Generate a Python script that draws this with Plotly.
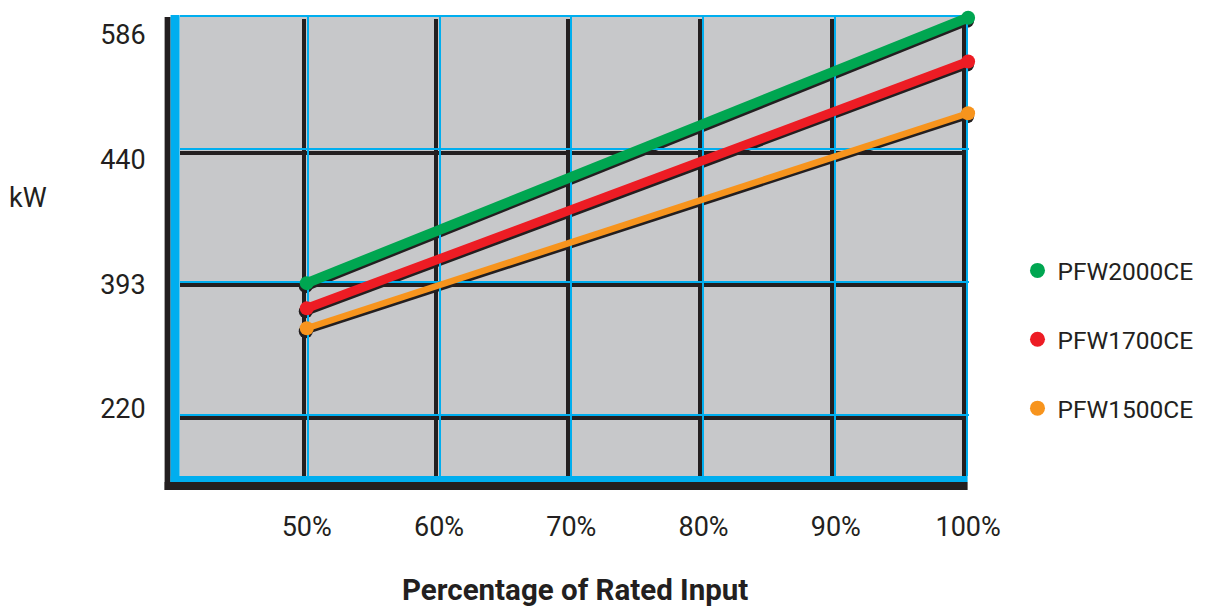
import plotly.graph_objects as go

W, H = 1209, 612
OFF = 8  # page body margin: figure starts 8 px from page edge

# ---- data ----
pct = [50, 100]                                   # % of rated input
x_tick_vals = [50, 60, 70, 80, 90, 100]
x_tick_text = ["50%", "60%", "70%", "80%", "90%", "100%"]
grid_levels = [0, 1, 2, 3]                        # evenly spaced kW rows
y_tick_text = ["220", "393", "440", "586"]
series_names = ["PFW2000CE", "PFW1700CE", "PFW1500CE"]
pfw2000 = [0.99, 2.99]                            # position on the kW row scale
pfw1700 = [0.80, 2.66]
pfw1500 = [0.65, 2.27]
series_values = [pfw2000, pfw1700, pfw1500]
series_colors = ["#00a651", "#ed1c24", "#f7941d"]
line_widths = [10, 9, 6.5]

INK = "#231f20"
BLUE = "#00aeef"
GRAY = "#c7c8ca"
FONT = "Roboto, Liberation Sans, sans-serif"


def px_x(p):
    return (p - OFF) / W


def px_y(p):
    return 1 - (p - OFF) / H


def xdom(d0, d1):
    return [px_x(d0), px_x(d1)]


def ydom(top, bottom):
    return [px_y(bottom), px_y(top)]


def xr(p0, s, d0, d1, v0=50):
    return [v0 + (d0 - p0) / s, v0 + (d1 - p0) / s]


def yr(q0, t, top, bottom, v0=0):
    return [v0 - (bottom - q0) / t, v0 + (q0 - top) / t]


fig = go.Figure()

# shadow lines (subplot 2)
for vals, w in zip(series_values[::-1], line_widths[::-1]):
    fig.add_trace(go.Scatter(x=pct, y=vals, xaxis="x2", yaxis="y2", mode="lines+markers",
                             line=dict(color=INK, width=w), marker=dict(color=INK, size=14),
                             showlegend=False, hoverinfo="skip", cliponaxis=False))
# colored lines (subplot 4)
for name, vals, c, w in zip(series_names[::-1], series_values[::-1], series_colors[::-1], line_widths[::-1]):
    fig.add_trace(go.Scatter(x=pct, y=vals, xaxis="x4", yaxis="y4", mode="lines+markers",
                             line=dict(color=c, width=w), marker=dict(color=c, size=14),
                             name=name, showlegend=False, cliponaxis=False))
# legend entries
for i, (name, c) in enumerate(zip(series_names, series_colors)):
    fig.add_trace(go.Scatter(x=[None], y=[None], xaxis="x4", yaxis="y4", mode="markers",
                             marker=dict(color=c, size=15), name=name, legendgroup=f"g{i}",
                             showlegend=True))
# dummy traces so grid subplots and the label axis are drawn
fig.add_trace(go.Scatter(x=[None], y=[None], xaxis="x", yaxis="y", showlegend=False))
fig.add_trace(go.Scatter(x=[None], y=[None], xaxis="x3", yaxis="y3", showlegend=False))
fig.add_trace(go.Scatter(x=[None], y=[None], xaxis="x4", yaxis="y5", showlegend=False))

S_blk, S_blu, S_col = 13.23, 13.21, 13.26
T = 132.7

hidden = dict(showticklabels=False, zeroline=False, showline=False, ticks="")
TICKFONT = dict(family=FONT, size=27, color=INK)

fig.update_layout(
    width=W, height=H,
    margin=dict(l=0, r=0, t=0, b=0),
    paper_bgcolor="white", plot_bgcolor="rgba(0,0,0,0)",
    showlegend=True,
    # black grid
    xaxis=dict(domain=xdom(180, 968.5), range=xr(305, S_blk, 180, 968.5), anchor="y",
               tickvals=x_tick_vals, showgrid=True, gridcolor=INK, gridwidth=3.5, **hidden),
    yaxis=dict(domain=ydom(19, 476), range=yr(418, T, 19, 476), anchor="x",
               tickvals=grid_levels, showgrid=True, gridcolor=INK, gridwidth=3.5, **hidden),
    # shadows
    xaxis2=dict(domain=xdom(150, 1000), range=xr(306.5, S_col, 150, 1000), anchor="y2",
                showgrid=False, **hidden),
    yaxis2=dict(domain=ydom(8, 500), range=yr(417.5, T, 8, 500), anchor="x2",
                showgrid=False, **hidden),
    # blue grid
    xaxis3=dict(domain=xdom(180, 971), range=xr(308.5, S_blu, 180, 971), anchor="y3",
                tickvals=x_tick_vals, showgrid=True, gridcolor=BLUE, gridwidth=2, **hidden),
    yaxis3=dict(domain=ydom(15, 476), range=yr(414.5, T, 15, 476), anchor="x3",
                tickvals=grid_levels, showgrid=True, gridcolor=BLUE, gridwidth=2, **hidden),
    # colored data + x tick labels
    xaxis4=dict(domain=xdom(150, 1000), range=xr(307.5, S_col, 150, 1000), anchor="free",
                position=px_y(508), tickvals=x_tick_vals, ticktext=x_tick_text,
                showticklabels=True, ticks="", showgrid=False, zeroline=False, showline=False,
                tickfont=TICKFONT),
    yaxis4=dict(domain=ydom(8, 500), range=yr(414.5, T, 8, 500), anchor="x4",
                showgrid=False, **hidden),
    # y tick labels
    yaxis5=dict(overlaying="y4", anchor="free", position=px_x(146), side="left",
                range=yr(409, 124.7, 8, 500), tickvals=grid_levels, ticktext=y_tick_text,
                showticklabels=True, ticks="", showgrid=False, zeroline=False, showline=False,
                tickfont=TICKFONT),
    legend=dict(x=px_x(1020), xanchor="left", y=px_y(248), yanchor="top",
                font=dict(family=FONT, size=24.5, color=INK), tracegroupgap=34,
                bgcolor="rgba(0,0,0,0)"),
    shapes=[
        dict(type="rect", xref="paper", yref="paper", layer="below",
             x0=px_x(180), x1=px_x(968), y0=px_y(476), y1=px_y(16), fillcolor=GRAY, line_width=0),
        dict(type="rect", xref="paper", yref="paper", layer="below",
             x0=px_x(165), x1=px_x(171), y0=px_y(490), y1=px_y(17), fillcolor=INK, line_width=0),
        dict(type="rect", xref="paper", yref="paper", layer="below",
             x0=px_x(165), x1=px_x(970), y0=px_y(490), y1=px_y(482), fillcolor=INK, line_width=0),
        dict(type="rect", xref="paper", yref="paper", layer="below",
             x0=px_x(171), x1=px_x(180), y0=px_y(482), y1=px_y(15), fillcolor=BLUE, line_width=0),
        dict(type="rect", xref="paper", yref="paper", layer="below",
             x0=px_x(171), x1=px_x(970), y0=px_y(482), y1=px_y(476), fillcolor=BLUE, line_width=0),
    ],
    annotations=[
        dict(text="kW", xref="paper", yref="paper", x=px_x(28), y=px_y(198),
             xanchor="center", yanchor="middle",
             showarrow=False, font=dict(family=FONT, size=27, color=INK)),
        dict(text="<b>Percentage of Rated Input</b>", xref="paper", yref="paper",
             x=px_x(576), y=px_y(590), xanchor="center", yanchor="middle", showarrow=False,
             font=dict(family=FONT, size=29.5, color=INK)),
    ],
)

fig.write_html("out.html")
